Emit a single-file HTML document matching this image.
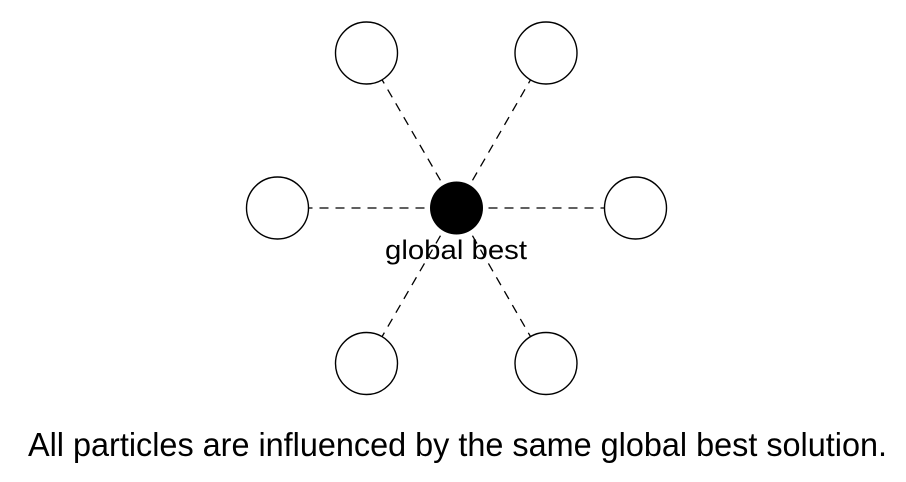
<!DOCTYPE html>
<html><head><meta charset="utf-8"><style>html,body{margin:0;padding:0;background:#fff}svg{display:block}</style></head><body>
<svg width="906" height="482" viewBox="0 0 906 482" xmlns="http://www.w3.org/2000/svg">
<g stroke="#000" stroke-width="1.3" stroke-dasharray="9,7" fill="none">
<line x1="456.5" y1="208" x2="366.5" y2="53"/>
<line x1="456.5" y1="208" x2="546" y2="53"/>
<line x1="456.5" y1="208" x2="277.5" y2="208"/>
<line x1="456.5" y1="208" x2="635.5" y2="208"/>
<line x1="456.5" y1="208" x2="366.5" y2="363.5"/>
<line x1="456.5" y1="208" x2="546" y2="363.5"/>
</g>
<g stroke="#000" stroke-width="1.4" fill="#fff">
<circle cx="366.5" cy="53" r="31"/>
<circle cx="546" cy="53" r="31"/>
<circle cx="277.5" cy="208" r="31"/>
<circle cx="635.5" cy="208" r="31"/>
<circle cx="366.5" cy="363.5" r="31"/>
<circle cx="546" cy="363.5" r="31"/>
</g>
<circle cx="456.5" cy="208" r="26.5" fill="#000"/>
<text x="385" y="259" font-family="Liberation Sans, sans-serif" font-size="27" textLength="142" lengthAdjust="spacingAndGlyphs">global best</text>
<text x="28" y="456" font-family="Liberation Sans, sans-serif" font-size="33" textLength="859" lengthAdjust="spacingAndGlyphs">All particles are influenced by the same global best solution.</text>
</svg>
</body></html>
